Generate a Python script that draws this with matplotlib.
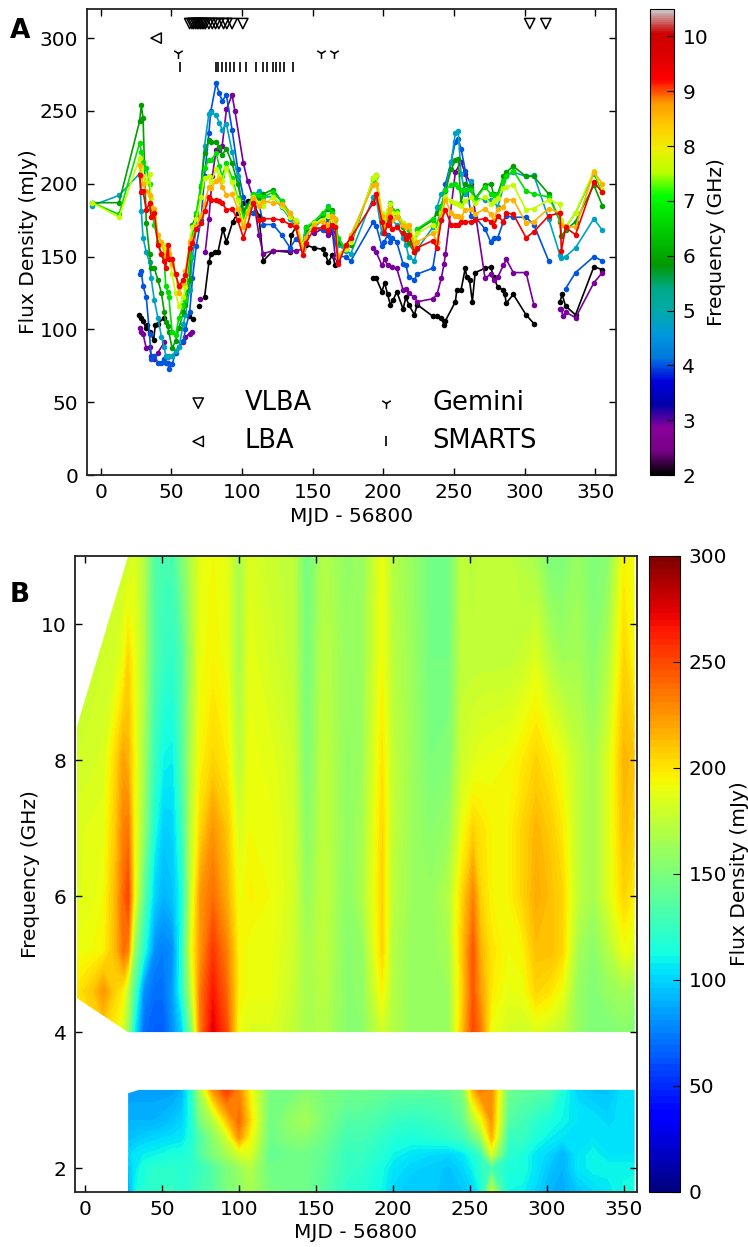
import numpy as np
import matplotlib
matplotlib.use("Agg")
import matplotlib.pyplot as plt
from matplotlib.cm import ScalarMappable
from matplotlib.colors import Normalize
from matplotlib.patches import Polygon

nan = float("nan")

# light curves, panel A
t_a = [-6, 13, 27.6, 28.8, 30, 32.3, 34.6, 35.8, 38, 40.5, 43, 45, 46, 47.6, 48.3, 50.6, 53, 55.4, 58.6, 60, 63, 65, 67.6, 71, 73.5, 76.6, 78, 81.7, 84, 86, 89, 93, 97, 101, 104, 108, 112, 115, 122, 128, 134, 138, 143, 145, 151, 157, 161, 164, 166, 168, 173.6, 177,
       193, 195, 199, 200.7, 203, 205, 206, 209.5, 214, 216, 218, 222, 224, 235, 238, 241, 244, 248, 251, 253, 255, 258, 262, 265, 272, 276, 278, 281, 285, 287, 292, 301, 306.5, 317, 325, 326, 329, 336, 349, 355]

red = [nan, nan, 206, 194, 195, 182, 187, 177, 180, 158, 152, 147, 142, 158, 148, 148, 138, 130, 134, 137, 156, 159, 169, 173, 181, 191, 189, 189, 188, 187, 182, 183, 175, 163, 172, 187, 175, 176, 176, 175, 172, 170, 151, 159, 169, 170, 168, 172, 170, 145, 158, 163,
       187, 193, 174, 166, 172, 177, 169, 170, 166, 162, 165, 153, 156, 161, 156, 175, 182, 172, 172, 172, 174, 174, 174, 175, 176, 174, 171, 178, 174, 180, 179, 163, 167, 178, 180, 154, 170, 165, 201, 194]
orange = [nan, nan, 213, 205, 200, 195, 192, 185, 183, 165, 160, 152, 150, 155, 152, 145, 138, 125, 132, 140, 160, 162, 170, 178, 186, 198, 197, 202, 203, 198, 192, 193, 183, 170, 180, 190, 185, 188, 187, 186, 180, 172, 155, 163, 172, 174, 172, 178, 176, 150, 157, 165,
          199, 200, 178, 170, 178, 183, 175, 177, 172, 170, 172, 157, 160, 166, 160, 178, 189, 180, 178, 178, 177, 182, 183, 179, 183, 179, 175, 183, 184, 189, 189, 173, 174, 183, 180, 172, 171, 170, 208, 200]
yellow = [187, 177, 218, 210, 205, 201, 207, 190, 178, 165, 158, 158, 155, 153, 150, 138, 125, 116, 122, 129, 161, 170, 176, 191, 204, 205, 201, 210, 205, 202, 211, 201, 189, 173, 181, 191, 187, 185, 191, 185, 177, 175, 158, 163, 173, 175, 178, 175, 172, 150, 155, 160,
          204, 206, 180, 175, 182, 186, 180, 180, 173, 172, 171, 163, 166, 172, 168, 180, 191, 188, 187, 186, 185, 188, 191, 187, 191, 186, 188, 190, 197, 198, 199, 182, 183, 189, 186, 175, 170, 180, 209, 196]
green = [187, 179, 228, 222, 215, 211, 200, 183, 172, 160, 152, 150, 130, 126, 122, 98, 96, 108, 117, 120, 150, 165, 180, 199, 211, 216, 216, 221, 212, 205, 214, 204, 190, 177, 183, 193, 192, 191, 194, 188, 180, 174, 158, 170, 174, 180, 184, 180, 175, 163, 155, 162,
         202, 205, 176, 170, 180, 187, 182, 181, 173, 170, 168, 155, 169, 176, 172, 184, 196, 199, 200, 198, 196, 196, 196, 189, 198, 193, 192, 192, 202, 205, 209, 195, 193, 191, 175, 172, 170, 180, 207, 194]
dkgreen = [187, 187, 243, 254, 245, 173, 152, 142, 142, 134, 125, 112, 105, 102, 98, 87, 92, 101, 112, 117, 134, 172, 178, 198, 221, 230, 229, 229, 225, 220, 224, 214, 200, 182, 185, 192, 190, 193, 196, 188, 178, 173, 156, 169, 173, 178, 183, 182, 176, 160, 155, 158,
           204, 206, 175, 166, 178, 185, 180, 178, 170, 165, 159, 153, 168, 175, 180, 185, 195, 210, 216, 217, 187, 200, 198, 190, 199, 200, 193, 193, 205, 208, 212, 205, 205, 193, 174, 164, 168, 174, 199, 185]
teal = [185, 192, 207, 181, 163, 153, 146, 135, 120, 108, 95, 88, 82, 81, 82, 82, 85, 88, 104, 110, 127, 150, 170, 198, 226, 248, 249, 247, 242, 237, 241, 222, 205, 180, 185, 192, 195, 191, 191, 184, 176, 170, 155, 167, 170, 175, 185, 180, 172, 158, 154, 152,
        191, 190, 166, 170, 175, 180, 175, 172, 163, 158, 150, 147, 155, 170, 184, 193, 196, 215, 235, 236, 207, 193, 202, 190, 189, 189, 188, 184, 198, 205, 208, 205, 206, 176, 151, 149, 150, 156, 176, 168]
blue = [nan, nan, 138, 140, 130, 122, 97, 80, 82, 77, 77, 80, 77, 77, 73, 76, 84, 88, 92, 100, 112, 135, 157, 175, 205, 235, 250, 269, 262, 257, 261, 237, 210, 191, 183, 180, 187, 172, 172, 165, 156, 162, 158, 165, 170, 168, 176, 170, 160, 150, 150, 147,
        174, 171, 157, 160, 165, 160, 163, 160, 145, 144, 136, 134, 138, 142, 160, 175, 200, 215, 229, 231, 224, 209, 178, 177, 169, 160, 163, 163, 174, 178, 177, 177, 172, 147, nan, nan, 128, 139, 150, 147]

t_purple = [27.6, 28.8, 30, 32.3, 34.6, 35.8, 38, 40.5, 45, 50, 58.6, 60, 63, 65, 67, 70, 72, 74, 76.6, 79, 81.7, 84, 86, 89, 93, 95, 101, 104, 108, 112, 115, 122, 134, 138, 143, 145, 151, 157, 161, 164, 166, 168, 180,
            192.6, 195, 199, 201, 203, 206, 209.5, 214, 216, 218, 222, 224, 235, 238, 241, 243, 244, 251, 255, 258, 262, 272, 276, 278, 281, 285, 287, 292, 301, 306.5, 315, 325, 326, 327, 329, 336, 349, 355]
purple = [101, 98, 97, 87, 88, 82, 80, 84, 91, nan, 91, 95, 97, 98, nan, 121, nan, 153, 176, 205, 223, 223, 226, 251, 261, 250, 214, 202, 190, 165, 152, 154, 154, 154, 155, 170, 166, 169, 165, 167, 150, 147, nan,
          156, 153, 144, 148, 144, 143, 142, 127, 128, 125, 122, 119, 121, 124, 135, 145, 152, 208, 215, 207, 200, 135, 138, 134, 136, 144, 148, 139, 139, 117, nan, 114, 114, 109, 112, 108, 132, 139]
t_black = [27, 28.8, 30, 32, 33, 34.6, 37.5, 38.7, 40.5, 45, 50, 62.5, 65.5, 67, 69.5, 71, 73.5, 76.6, 78, 81, 83, 86.5, 89, 93.5, 97, 101, 104, 108, 112, 115, 122, 134, 135, 138, 143, 145, 151, 157, 159, 161, 164, 166, 180,
           192.6, 195, 199, 201, 203, 205, 207, 209.5, 214, 216, 218, 222, 224, 235, 238, 241, 243, 244, 251, 252, 255, 258, 259, 261, 263, 265, 272, 276, 278, 281, 285, 286, 287, 292, 301, 306.5, 315, 325, 326.5, 329, 336, 349, 355]
black = [110, 108, 106, 101, 103, 98, 93, 103, 104, 108, nan, 109, 107, nan, 116, nan, 122, 146, 152, 153, 153, 169, 160, 174, 180, 187, 188, 187, 178, 147, 154, 153, 165, 170, 158, 158, 156, 155, 152, 146, 151, 144, nan,
         135, 135, 126, 132, 124, 117, 120, 126, 114, 122, 117, 110, 117, 109, 109, 108, 103, 106, 119, 127, 127, 142, 136, 134, 119, 139, 142, 143, 136, 129, 127, 124, 118, 124, 110, 104, nan, 119, 124, 116, 110, 143, 141]

freq_series = [2.0, 2.9, 4.0, 4.8, 5.9, 6.7, 7.6, 8.6, 9.4]

# observation epochs
t_vlba = [63, 64.6, 65.8, 67.2, 68.4, 69.5, 70.7, 71.9, 73, 74.2, 76.6, 79, 81.3, 83.6, 87, 89.3, 93, 100.6, 303.6, 315]
t_lba = [39.3]
t_gemini = [55, 155.7, 165]
t_smarts = [56.3, 81.3, 83, 86, 89, 91.7, 94.7, 98.3, 103, 110, 115, 118, 122.3, 124, 127, 130, 136]

# dynamic spectrum, panel B
t_b = [-5, 5, 12, 20, 25, 28, 32, 38, 45, 51, 57, 63, 69, 75, 83, 92, 100, 107, 120, 135, 144, 155, 170, 180, 193, 200, 212, 224, 236, 245, 252, 257, 264, 275, 284, 293, 302, 310, 320, 330, 340, 350, 358]
f_high = [4.0, 4.6, 5.2, 6.0, 7.0, 8.0, 9.5, 11.0]
f_low = [1.6, 2.0, 2.2, 2.45, 2.7, 3.15]
s_400 = [190, 200, 205, 195, 180, 160, 110, 70, 65, 65, 80, 100, 150, 235, 275, 250, 190, 185, 185, 175, 165, 170, 155, 156, 180, 170, 160, 160, 160, 210, 250, 235, 190, 182, 180, 185, 180, 175, 160, 150, 150, 155, 150]
s_460 = [200, 210, 225, 205, 195, 170, 135, 80, 70, 70, 85, 120, 175, 235, 265, 240, 195, 190, 190, 178, 165, 172, 155, 157, 195, 170, 160, 160, 162, 205, 245, 222, 198, 188, 190, 205, 200, 190, 160, 152, 160, 165, 160]
s_520 = [190, 192, 195, 215, 238, 230, 160, 120, 80, 75, 80, 120, 190, 225, 255, 232, 195, 190, 190, 180, 165, 175, 155, 158, 205, 170, 160, 160, 165, 210, 245, 215, 200, 192, 195, 212, 212, 205, 165, 155, 170, 190, 185]
s_600 = [185, 188, 192, 215, 240, 252, 195, 140, 100, 90, 95, 115, 180, 225, 238, 218, 190, 196, 192, 182, 160, 175, 156, 168, 205, 172, 162, 160, 170, 205, 230, 205, 195, 195, 205, 218, 212, 205, 175, 165, 185, 205, 195]
s_700 = [185, 187, 188, 210, 232, 235, 195, 160, 115, 98, 100, 125, 175, 205, 225, 210, 182, 192, 190, 182, 155, 175, 158, 165, 204, 175, 162, 155, 160, 190, 205, 200, 195, 195, 205, 215, 208, 198, 175, 165, 185, 212, 205]
s_800 = [180, 182, 184, 205, 222, 215, 195, 165, 125, 110, 108, 135, 170, 195, 205, 198, 172, 190, 188, 180, 150, 175, 158, 162, 200, 175, 163, 150, 152, 180, 185, 188, 190, 192, 198, 205, 198, 190, 175, 165, 185, 215, 210]
s_950 = [175, 178, 180, 182, 190, 205, 190, 170, 135, 125, 122, 135, 165, 190, 195, 190, 165, 188, 182, 175, 148, 172, 160, 162, 192, 172, 162, 147, 147, 175, 175, 175, 175, 175, 178, 185, 170, 163, 165, 155, 170, 205, 190]
s_1100 = [180, 180, 180, 180, 180, 178, 185, 170, 135, 130, 132, 150, 170, 188, 192, 188, 165, 185, 178, 175, 145, 170, 158, 160, 190, 170, 160, 147, 145, 175, 172, 175, 175, 175, 170, 165, 150, 150, 160, 150, 155, 195, 190]
s_315 = [85, 85, 85, 85, 85, 85, 85, 85, 85, 85, 85, 90, 120, 170, 225, 255, 230, 195, 148, 148, 155, 150, 145, 145, 142, 140, 140, 138, 140, 150, 215, 235, 228, 145, 140, 138, 135, 115, 100, 95, 95, 105, 105]
s_270 = [90, 90, 90, 90, 90, 90, 90, 90, 90, 92, 95, 100, 115, 150, 170, 210, 240, 205, 145, 160, 165, 150, 135, 135, 130, 125, 122, 125, 130, 140, 170, 190, 225, 135, 130, 120, 115, 110, 105, 105, 100, 105, 105]
s_245 = [95, 95, 95, 95, 95, 95, 95, 98, 100, 102, 103, 105, 115, 135, 155, 180, 225, 195, 145, 155, 155, 145, 130, 130, 122, 118, 115, 118, 122, 128, 145, 160, 215, 125, 125, 115, 108, 105, 105, 105, 105, 105, 105]
s_220 = [100, 100, 100, 100, 100, 100, 105, 108, 110, 112, 115, 115, 120, 135, 150, 165, 180, 185, 140, 145, 145, 140, 125, 125, 118, 110, 105, 102, 100, 105, 115, 125, 180, 120, 115, 105, 100, 90, 105, 110, 105, 105, 105]
s_200 = [95, 95, 95, 95, 95, 95, 105, 115, 120, 120, 120, 120, 120, 125, 135, 150, 160, 170, 145, 145, 145, 138, 125, 122, 112, 105, 100, 98, 95, 100, 110, 120, 130, 115, 115, 105, 95, 90, 105, 110, 110, 110, 110]
s_160 = [85, 85, 85, 85, 85, 85, 110, 118, 122, 125, 125, 120, 125, 130, 135, 150, 155, 165, 150, 145, 145, 135, 120, 118, 110, 100, 95, 98, 92, 95, 100, 110, 185, 110, 108, 100, 90, 88, 95, 100, 105, 112, 115]

W, H = 748.0, 1247.0
fs = 14.5


def px_axes(fig, left, top, right, bottom):
    return fig.add_axes([left / W, 1 - bottom / H, (right - left) / W, (bottom - top) / H])


def style(ax):
    ax.tick_params(direction="in", top=True, right=True, labelsize=fs, length=5, width=1, pad=6)
    for sp in ax.spines.values():
        sp.set_linewidth(1.3)
        sp.set_color("#222222")


fig = plt.figure(figsize=(W / 100, H / 100), dpi=100)

# panel A
ax = px_axes(fig, 86.5, 9, 616.5, 475)
style(ax)
cmap_a = plt.get_cmap("nipy_spectral")
norm_a = Normalize(2, 10.5)
t_all = [t_black, t_purple] + [t_a] * 7
series = [black, purple, blue, teal, dkgreen, green, yellow, orange, red]
for t, s, f in zip(t_all, series, freq_series):
    ax.plot(t, s, "-o", color=cmap_a(norm_a(f)), lw=1.2, ms=4, mew=0)

ax.scatter(t_vlba, [310] * len(t_vlba), marker="v", s=55, facecolors="none", edgecolors="k", linewidths=1.1, label="VLBA")
ax.scatter(t_lba, [300] * len(t_lba), marker="<", s=55, facecolors="none", edgecolors="k", linewidths=1.1, label="LBA")
ax.scatter(t_gemini, [289.5] * len(t_gemini), marker="1", s=60, color="k", linewidths=1.1, label="Gemini")
ax.scatter(t_smarts, [280] * len(t_smarts), marker="|", s=50, color="k", linewidths=1.2, label="SMARTS")
ax.set_xlim(-10, 365)
ax.set_ylim(0, 320)
ax.set_xticks(np.arange(0, 351, 50))
ax.set_yticks(np.arange(0, 301, 50))
ax.set_xlabel("MJD - 56800", fontsize=fs, labelpad=3)
ax.set_ylabel("Flux Density (mJy)", fontsize=fs, labelpad=1)
ax.legend(loc="lower center", bbox_to_anchor=(0.506, -0.005), ncol=2, frameon=False, fontsize=18.5, scatterpoints=1,
          handletextpad=0.8, columnspacing=1.9, labelspacing=0.48)

cax_a = px_axes(fig, 650, 9, 674, 475)
cb_a = fig.colorbar(ScalarMappable(norm=norm_a, cmap=cmap_a), cax=cax_a, ticks=np.arange(2, 11))
cb_a.ax.tick_params(direction="in", labelsize=fs, length=5, pad=6)
cb_a.set_label("Frequency (GHz)", fontsize=fs, labelpad=-1)

# panel B
bx = px_axes(fig, 75, 556, 637, 1191.5)
style(bx)
levels = np.linspace(0, 300, 101)
z_high = np.array([s_400, s_460, s_520, s_600, s_700, s_800, s_950, s_1100])
z_low = np.array([s_160, s_200, s_220, s_245, s_270, s_315])
cs = bx.contourf(t_b, f_high, z_high, levels=levels, cmap="jet")
cs.set_clip_path(Polygon([(-5.4, 4.5), (28, 4.0), (357, 4.0), (357, 11), (28, 11), (-5.4, 8.48)], transform=bx.transData))
cs2 = bx.contourf(t_b, f_low, z_low, levels=levels, cmap="jet")
cs2.set_clip_path(Polygon([(28, 1.6), (28, 3.1), (35, 3.15), (357, 3.15), (357, 1.6)], transform=bx.transData))
bx.set_xlim(-6.5, 358.5)
bx.set_ylim(1.656, 11)
bx.set_xticks(np.arange(0, 351, 50))
bx.set_yticks(np.arange(2, 11, 2))
bx.set_xlabel("MJD - 56800", fontsize=fs, labelpad=3)
bx.set_ylabel("Frequency (GHz)", fontsize=fs, labelpad=1)

cax_b = px_axes(fig, 649, 556, 680, 1191.5)
cb_b = fig.colorbar(cs, cax=cax_b, ticks=np.arange(0, 301, 50))
cb_b.ax.tick_params(direction="in", labelsize=fs, length=5, pad=6)
cb_b.set_label("Flux Density (mJy)", fontsize=fs, labelpad=2)

fig.text(10 / W, 1 - 38 / H, "A", fontsize=19, fontweight="bold")
fig.text(10 / W, 1 - 602 / H, "B", fontsize=19, fontweight="bold")

fig.savefig("out.png", dpi=100)
